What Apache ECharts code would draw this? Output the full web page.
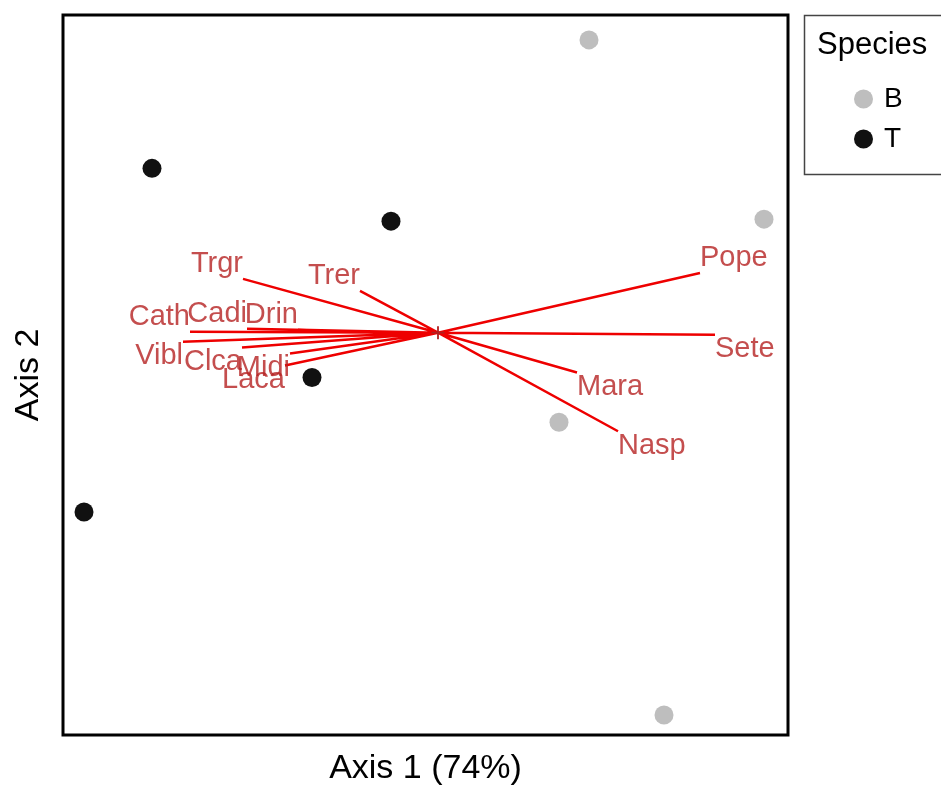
<!DOCTYPE html>
<html>
<head>
<meta charset="utf-8">
<script src="https://cdn.jsdelivr.net/npm/echarts@6/dist/echarts.min.js"></script>
<style>
html,body{margin:0;padding:0;background:#fff;}
#chart{width:941px;height:791px;}
</style>
</head>
<body>
<div id="chart"></div>
<script>
// Site scores (Axis 1, Axis 2)
const siteB = [[1.51, 2.94], [3.26, 1.14], [1.21, -0.90], [2.26, -3.84]];
const siteT = [[-2.86, 1.65], [-0.47, 1.12], [-1.26, -0.45], [-3.54, -1.80]];
// Species loadings (arrows)
const loadNames = ['Trgr', 'Trer', 'Cath', 'Cadi', 'Drin', 'Vibl', 'Clca', 'Midi', 'Laca', 'Pope', 'Sete', 'Mara', 'Nasp'];
const loadX = [-1.95, -0.78, -2.48, -1.91, -1.40, -2.55, -1.96, -1.48, -1.53, 2.62, 2.77, 1.39, 1.80];
const loadY = [0.54, 0.42, 0.01, 0.04, 0.03, -0.09, -0.15, -0.21, -0.33, 0.60, -0.02, -0.40, -0.99];
const legendTitle = 'Species';
const groups = ['B', 'T'];
const xTitle = 'Axis 1 (74%)';
const yTitle = 'Axis 2';

const chart = echarts.init(document.getElementById('chart'), null, {renderer: 'canvas'});

const arrowData = [];
loadNames.forEach((n, i) => {
  arrowData.push([0, 0]);
  arrowData.push([loadX[i], loadY[i]]);
  arrowData.push('-');
});
const tipData = loadNames.map((n, i) => ({
  name: n,
  value: [loadX[i], loadY[i]],
  label: {
    align: loadX[i] < 0 ? 'right' : 'left',
    verticalAlign: loadY[i] > 0.005 ? 'bottom' : 'top'
  }
}));

const FONT = 'Liberation Sans, Arial, sans-serif';

chart.setOption({
  animation: false,
  backgroundColor: '#fff',
  grid: {left: 63, right: 153, top: 15, bottom: 54, show: true, borderColor: '#000', borderWidth: 3, backgroundColor: 'transparent'},
  xAxis: {
    type: 'value', min: -3.75, max: 3.5,
    axisLine: {show: false}, axisTick: {show: false}, axisLabel: {show: false}, splitLine: {show: false},
    name: xTitle, nameLocation: 'middle', nameGap: 17,
    nameTextStyle: {fontFamily: FONT, fontSize: 34, color: '#000'}
  },
  yAxis: {
    type: 'value', min: -4.04, max: 3.19,
    axisLine: {show: false}, axisTick: {show: false}, axisLabel: {show: false}, splitLine: {show: false},
    name: yTitle, nameLocation: 'middle', nameGap: 17, nameRotate: 90,
    nameTextStyle: {fontFamily: FONT, fontSize: 34, color: '#000'}
  },
  title: {
    text: legendTitle, left: 812, top: 25,
    textStyle: {fontFamily: FONT, fontSize: 31, fontWeight: 'normal', color: '#000'}
  },
  legend: {
    data: groups, orient: 'vertical', left: 849, top: 80,
    icon: 'circle', itemWidth: 19, itemHeight: 19, itemGap: 12,
    textStyle: {fontFamily: FONT, fontSize: 28, color: '#000', padding: [0, 0, 0, 6]}
  },
  graphic: [{
    type: 'rect', left: 802, top: 13,
    shape: {width: 160, height: 159},
    style: {fill: 'none', stroke: '#444', lineWidth: 1.5}
  }],
  series: [
    {
      name: 'arrows', type: 'line', data: arrowData, connectNulls: false,
      showSymbol: false, symbol: 'none', silent: true,
      lineStyle: {color: '#ee0000', width: 2.5}, z: 3
    },
    {
      name: 'tips', type: 'scatter', data: tipData, symbolSize: 0, silent: true,
      label: {show: true, formatter: '{b}', position: 'inside', fontFamily: FONT, fontSize: 29, color: '#b52222'},
      z: 4
    },
    {
      name: 'origin', type: 'scatter', data: [[0, 0]], silent: true,
      symbol: 'path://M4.3,0H5.7V10H4.3Z M0,4.3H10V5.7H0Z', symbolSize: 13,
      itemStyle: {color: '#b02020', opacity: 1}, z: 5
    },
    {
      name: groups[0], type: 'scatter', data: siteB, symbolSize: 19,
      itemStyle: {color: '#bebebe', opacity: 1}, z: 2
    },
    {
      name: groups[1], type: 'scatter', data: siteT, symbolSize: 19,
      itemStyle: {color: '#111111', opacity: 1}, z: 2
    }
  ]
});
</script>
</body>
</html>
